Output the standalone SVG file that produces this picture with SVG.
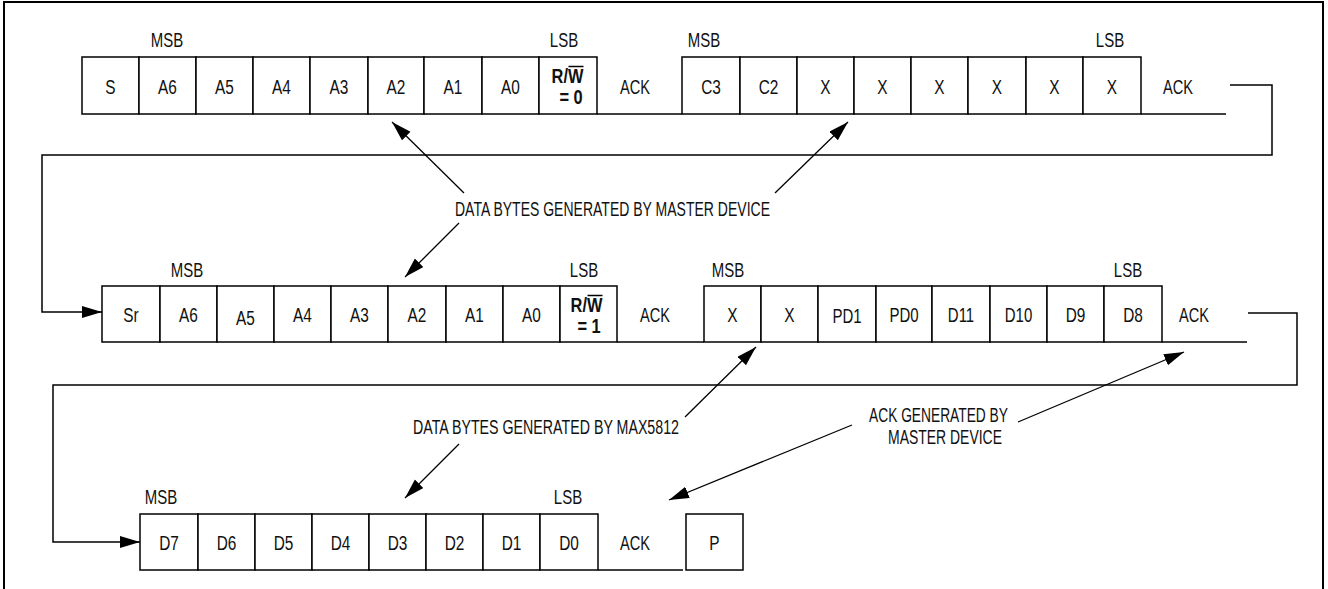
<svg xmlns="http://www.w3.org/2000/svg" width="1328" height="589" viewBox="0 0 1328 589">
<style>
.c{fill:#fff;stroke:#000;stroke-width:1.5}
.ln{fill:none;stroke:#000;stroke-width:1.5}
.an{fill:none;stroke:#000;stroke-width:1.3}
text{font-family:"Liberation Sans",Arial,sans-serif;font-size:20px;fill:#111}
.m{text-anchor:middle}
.b{font-weight:bold}
</style>
<defs>
<marker id="ah" markerUnits="userSpaceOnUse" markerWidth="22" markerHeight="14" refX="20" refY="6" orient="auto">
<path d="M0,0 L20,6 L0,12 Z" fill="#000"/>
</marker>
</defs>
<rect x="4" y="2" width="1319" height="600" fill="#fff" stroke="#000" stroke-width="2"/>

<!-- Row 1 -->
<g id="row1">
<text class="m" transform="translate(167,47) scale(0.75,1)">MSB</text>
<text class="m" transform="translate(564,47) scale(0.75,1)">LSB</text>
<text class="m" transform="translate(704,47) scale(0.75,1)">MSB</text>
<text class="m" transform="translate(1110,47) scale(0.75,1)">LSB</text>
<g id="r1-S"><rect class="c" x="82" y="57" width="57" height="57"/><text class="m" transform="translate(110.5,93.5) scale(0.77,1)">S</text></g>
<g id="r1-A6"><rect class="c" x="139" y="57" width="57" height="57"/><text class="m" transform="translate(167.5,93.5) scale(0.77,1)">A6</text></g>
<g id="r1-A5"><rect class="c" x="196" y="57" width="57" height="57"/><text class="m" transform="translate(224.5,93.5) scale(0.77,1)">A5</text></g>
<g id="r1-A4"><rect class="c" x="253" y="57" width="57" height="57"/><text class="m" transform="translate(281.5,93.5) scale(0.77,1)">A4</text></g>
<g id="r1-A3"><rect class="c" x="310" y="57" width="58" height="57"/><text class="m" transform="translate(339,93.5) scale(0.77,1)">A3</text></g>
<g id="r1-A2"><rect class="c" x="368" y="57" width="56" height="57"/><text class="m" transform="translate(396,93.5) scale(0.77,1)">A2</text></g>
<g id="r1-A1"><rect class="c" x="424" y="57" width="58" height="57"/><text class="m" transform="translate(453,93.5) scale(0.77,1)">A1</text></g>
<g id="r1-A0"><rect class="c" x="482" y="57" width="57" height="57"/><text class="m" transform="translate(510.5,93.5) scale(0.77,1)">A0</text></g>
<g id="r1-RW"><rect class="c" x="539" y="57" width="58" height="57"/><text class="m b" transform="translate(567.5,82.5) scale(0.82,1)">R/W</text><line x1="568.5" y1="66.5" x2="583.5" y2="66.5" stroke="#000" stroke-width="1.5"/><text class="m b" transform="translate(571,103.5) scale(0.82,1)">= 0</text></g>
<g id="r1-ACK"><line class="ln" x1="597" y1="114" x2="682" y2="114"/><text class="m" transform="translate(635,93.5) scale(0.73,1)">ACK</text></g>
<g id="r1-C3"><rect class="c" x="682" y="57" width="58" height="57"/><text class="m" transform="translate(711,93.5) scale(0.77,1)">C3</text></g>
<g id="r1-C2"><rect class="c" x="740" y="57" width="57" height="57"/><text class="m" transform="translate(768.5,93.5) scale(0.77,1)">C2</text></g>
<g id="r1-X1"><rect class="c" x="797" y="57" width="57" height="57"/><text class="m" transform="translate(825.5,93.5) scale(0.77,1)">X</text></g>
<g id="r1-X2"><rect class="c" x="854" y="57" width="57" height="57"/><text class="m" transform="translate(882.5,93.5) scale(0.77,1)">X</text></g>
<g id="r1-X3"><rect class="c" x="911" y="57" width="57" height="57"/><text class="m" transform="translate(939.5,93.5) scale(0.77,1)">X</text></g>
<g id="r1-X4"><rect class="c" x="968" y="57" width="58" height="57"/><text class="m" transform="translate(997,93.5) scale(0.77,1)">X</text></g>
<g id="r1-X5"><rect class="c" x="1026" y="57" width="57" height="57"/><text class="m" transform="translate(1054.5,93.5) scale(0.77,1)">X</text></g>
<g id="r1-X6"><rect class="c" x="1083" y="57" width="58" height="57"/><text class="m" transform="translate(1112,93.5) scale(0.77,1)">X</text></g>
<g id="r1-ACK2"><line class="ln" x1="1141" y1="114" x2="1226" y2="114"/><text class="m" transform="translate(1178,93.5) scale(0.73,1)">ACK</text></g>
</g>

<!-- Row 2 -->
<g id="row2">
<text class="m" transform="translate(187,277) scale(0.75,1)">MSB</text>
<text class="m" transform="translate(584,277) scale(0.75,1)">LSB</text>
<text class="m" transform="translate(728,277) scale(0.75,1)">MSB</text>
<text class="m" transform="translate(1128,277) scale(0.75,1)">LSB</text>
<g id="r2-Sr"><rect class="c" x="102" y="286" width="58" height="56"/><text class="m" transform="translate(131,321.5) scale(0.77,1)">Sr</text></g>
<g id="r2-A6"><rect class="c" x="160" y="286" width="57" height="56"/><text class="m" transform="translate(188.5,321.5) scale(0.77,1)">A6</text></g>
<g id="r2-A5"><rect class="c" x="217" y="286" width="57" height="56"/><text class="m" transform="translate(245.5,324.5) scale(0.77,1)">A5</text></g>
<g id="r2-A4"><rect class="c" x="274" y="286" width="57" height="56"/><text class="m" transform="translate(302.5,321.5) scale(0.77,1)">A4</text></g>
<g id="r2-A3"><rect class="c" x="331" y="286" width="57" height="56"/><text class="m" transform="translate(359.5,321.5) scale(0.77,1)">A3</text></g>
<g id="r2-A2"><rect class="c" x="388" y="286" width="58" height="56"/><text class="m" transform="translate(417,321.5) scale(0.77,1)">A2</text></g>
<g id="r2-A1"><rect class="c" x="446" y="286" width="57" height="56"/><text class="m" transform="translate(474.5,321.5) scale(0.77,1)">A1</text></g>
<g id="r2-A0"><rect class="c" x="503" y="286" width="57" height="56"/><text class="m" transform="translate(531.5,321.5) scale(0.77,1)">A0</text></g>
<g id="r2-RW"><rect class="c" x="560" y="286" width="57" height="56"/><text class="m b" transform="translate(586.5,311.5) scale(0.82,1)">R/W</text><line x1="587.5" y1="295.5" x2="602.5" y2="295.5" stroke="#000" stroke-width="1.5"/><text class="m b" transform="translate(589,332.5) scale(0.82,1)">= 1</text></g>
<g id="r2-ACK"><line class="ln" x1="617" y1="342" x2="704" y2="342"/><text class="m" transform="translate(655,321.5) scale(0.73,1)">ACK</text></g>
<g id="r2-X1"><rect class="c" x="704" y="286" width="57" height="56"/><text class="m" transform="translate(732.5,321.5) scale(0.77,1)">X</text></g>
<g id="r2-X2"><rect class="c" x="761" y="286" width="57" height="56"/><text class="m" transform="translate(789.5,321.5) scale(0.77,1)">X</text></g>
<g id="r2-PD1"><rect class="c" x="818" y="286" width="58" height="56"/><text class="m" transform="translate(847,322.5) scale(0.75,1)">PD1</text></g>
<g id="r2-PD0"><rect class="c" x="876" y="286" width="56" height="56"/><text class="m" transform="translate(904,321.5) scale(0.75,1)">PD0</text></g>
<g id="r2-D11"><rect class="c" x="932" y="286" width="58" height="56"/><text class="m" transform="translate(961,321.5) scale(0.75,1)">D11</text></g>
<g id="r2-D10"><rect class="c" x="990" y="286" width="57" height="56"/><text class="m" transform="translate(1018.5,321.5) scale(0.75,1)">D10</text></g>
<g id="r2-D9"><rect class="c" x="1047" y="286" width="57" height="56"/><text class="m" transform="translate(1075.5,321.5) scale(0.77,1)">D9</text></g>
<g id="r2-D8"><rect class="c" x="1104" y="286" width="58" height="56"/><text class="m" transform="translate(1133,321.5) scale(0.77,1)">D8</text></g>
<g id="r2-ACK2"><line class="ln" x1="1162" y1="342" x2="1247" y2="342"/><text class="m" transform="translate(1194,321.5) scale(0.73,1)">ACK</text></g>
</g>

<!-- Row 3 -->
<g id="row3">
<text class="m" transform="translate(161,503.5) scale(0.75,1)">MSB</text>
<text class="m" transform="translate(568,503.5) scale(0.75,1)">LSB</text>
<g id="r3-D7"><rect class="c" x="140" y="514" width="58" height="56"/><text class="m" transform="translate(169,549.5) scale(0.77,1)">D7</text></g>
<g id="r3-D6"><rect class="c" x="198" y="514" width="57" height="56"/><text class="m" transform="translate(226.5,549.5) scale(0.77,1)">D6</text></g>
<g id="r3-D5"><rect class="c" x="255" y="514" width="57" height="56"/><text class="m" transform="translate(283.5,549.5) scale(0.77,1)">D5</text></g>
<g id="r3-D4"><rect class="c" x="312" y="514" width="57" height="56"/><text class="m" transform="translate(340.5,549.5) scale(0.77,1)">D4</text></g>
<g id="r3-D3"><rect class="c" x="369" y="514" width="57" height="56"/><text class="m" transform="translate(397.5,549.5) scale(0.77,1)">D3</text></g>
<g id="r3-D2"><rect class="c" x="426" y="514" width="57" height="56"/><text class="m" transform="translate(454.5,549.5) scale(0.77,1)">D2</text></g>
<g id="r3-D1"><rect class="c" x="483" y="514" width="57" height="56"/><text class="m" transform="translate(511.5,549.5) scale(0.77,1)">D1</text></g>
<g id="r3-D0"><rect class="c" x="540" y="514" width="58" height="56"/><text class="m" transform="translate(569,549.5) scale(0.77,1)">D0</text></g>
<g id="r3-ACK"><line class="ln" x1="598" y1="570" x2="683" y2="570"/><text class="m" transform="translate(635,549.5) scale(0.73,1)">ACK</text></g>
<g id="r3-P"><rect class="c" x="686" y="514" width="57" height="56"/><text class="m" transform="translate(714.5,549.5) scale(0.77,1)">P</text></g>
</g>

<!-- Labels -->
<g id="label-master">
<text x="455" y="216" textLength="315" lengthAdjust="spacingAndGlyphs">DATA BYTES GENERATED BY MASTER DEVICE</text>
</g>
<g id="label-max">
<text x="413" y="434" textLength="266" lengthAdjust="spacingAndGlyphs">DATA BYTES GENERATED BY MAX5812</text>
</g>
<g id="label-ack">
<text x="869" y="422" textLength="139" lengthAdjust="spacingAndGlyphs">ACK GENERATED BY</text>
<text x="888" y="444" textLength="114" lengthAdjust="spacingAndGlyphs">MASTER DEVICE</text>
</g>

<!-- Connectors -->
<g id="connectors">
<polyline class="ln" points="1230,85 1272,85 1272,155 42,155 42,312 102,312" marker-end="url(#ah)"/>
<polyline class="ln" points="1248,313 1297,313 1297,385 53,385 53,542 140,542" marker-end="url(#ah)"/>
<line class="an" x1="464" y1="193" x2="392" y2="122" marker-end="url(#ah)"/>
<line class="an" x1="775" y1="193" x2="848" y2="122" marker-end="url(#ah)"/>
<line class="an" x1="459" y1="223" x2="405" y2="277" marker-end="url(#ah)"/>
<line class="an" x1="685" y1="417" x2="756" y2="347" marker-end="url(#ah)"/>
<line class="an" x1="459" y1="444" x2="405" y2="498" marker-end="url(#ah)"/>
<line class="an" x1="1018" y1="422" x2="1184" y2="352" marker-end="url(#ah)"/>
<line class="an" x1="852" y1="425" x2="669" y2="500" marker-end="url(#ah)"/>
</g>
</svg>
